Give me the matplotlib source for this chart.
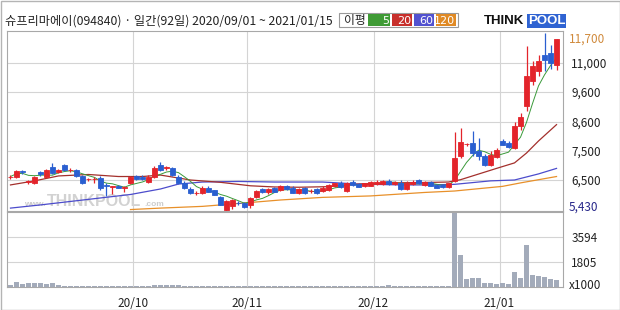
import numpy as np
import pandas as pd
import matplotlib
matplotlib.use("Agg")
import matplotlib.pyplot as plt
from matplotlib.patches import Rectangle

plt.rcParams['font.family'] = ['Noto Sans CJK KR', 'DejaVu Sans']

title = "슈프리마에이(094840) · 일간(92일) 2020/09/01 ~ 2021/01/15"

# daily candles, 2020/09/01 .. 2021/01/15 (92 trading days)
opens = [6600, 6600, 6810, 6430, 6400, 6780, 6610, 6950, 6780, 7020,
         6830, 6850, 6640, 6520, 6520, 6570, 6330, 6260, 6290, 6240,
         6400, 6640, 6620, 6430, 6600, 7030, 6910, 6900, 6590, 6410,
         6200, 6040, 6040, 6230, 6140, 5900, 5470, 5590, 5720, 5690,
         5640, 5920, 6180, 6070, 6210, 6160, 6290, 6230, 6040, 6210,
         6110, 6180, 6120, 6160, 6290, 6410, 6130, 6440, 6350, 6290,
         6300, 6350, 6360, 6470, 6350, 6410, 6180, 6360, 6500, 6320,
         6420, 6340, 6340, 6250, 6460, 7320, 7750, 7800, 7510, 7340,
         7010, 7280, 7870, 7800, 7610, 8440, 9120, 10120, 10600, 11240,
         11290, 10920]
highs = [6670, 6850, 6830, 6500, 6640, 6810, 6880, 7090, 6880, 7050,
         6910, 6880, 6670, 6570, 6590, 6640, 6400, 6290, 6330, 6290,
         6640, 6670, 6670, 6670, 6980, 7120, 6980, 6950, 6670, 6470,
         6260, 6120, 6280, 6280, 6170, 5950, 5810, 5850, 5760, 5740,
         5910, 6160, 6220, 6210, 6260, 6340, 6330, 6290, 6220, 6260,
         6190, 6220, 6290, 6360, 6410, 6470, 6430, 6500, 6400, 6410,
         6470, 6500, 6500, 6520, 6470, 6500, 6470, 6500, 6530, 6470,
         6470, 6360, 6360, 6410, 8220, 8370, 7820, 8270, 7990, 7410,
         7490, 7610, 7940, 7880, 8590, 8900, 11490, 11050, 11240, 11870,
         11530, 11700]
lows = [6540, 6570, 6720, 6360, 6360, 6640, 6570, 6710, 6740, 6810,
        6780, 6600, 6360, 6470, 6400, 6160, 5950, 6020, 6220, 6090,
        6360, 6500, 6500, 6400, 6570, 6810, 6850, 6640, 6360, 6190,
        6030, 5970, 6020, 6070, 5970, 5620, 5430, 5500, 5650, 5530,
        5530, 5880, 6050, 6030, 6090, 6120, 6160, 6060, 6020, 6020,
        6050, 6030, 6090, 6120, 6260, 6240, 6100, 6290, 6260, 6260,
        6280, 6330, 6330, 6330, 6330, 6160, 6160, 6330, 6360, 6290,
        6290, 6210, 6220, 6220, 6430, 7260, 7690, 7320, 7200, 6980,
        6980, 7260, 7710, 7610, 7580, 8310, 8980, 9950, 10360, 10630,
        10710, 10680]
closes = [6620, 6810, 6760, 6450, 6600, 6710, 6830, 6740, 6850, 6830,
          6850, 6640, 6400, 6530, 6530, 6210, 6290, 6280, 6220, 6260,
          6600, 6550, 6530, 6620, 6930, 6850, 6950, 6660, 6380, 6210,
          6060, 6050, 6220, 6100, 5980, 5650, 5760, 5810, 5710, 5560,
          5870, 6120, 6070, 6180, 6100, 6290, 6180, 6060, 6180, 6040,
          6120, 6060, 6230, 6330, 6390, 6270, 6390, 6330, 6270, 6390,
          6420, 6440, 6470, 6360, 6440, 6180, 6410, 6420, 6390, 6430,
          6300, 6220, 6250, 6400, 7260, 7830, 7780, 7430, 7340, 7010,
          7370, 7530, 7740, 7650, 8440, 8760, 10360, 10870, 11050, 11100,
          11000, 11700]
# volume in thousands of shares
volumes = [140, 380, 240, 310, 260, 310, 190, 310, 140, 90,
           80, 80, 80, 70, 60, 60, 90, 70, 60, 60,
           70, 60, 70, 80, 160, 130, 150, 120, 110, 80,
           60, 60, 60, 60, 70, 100, 90, 60, 60, 50,
           60, 60, 50, 50, 60, 50, 50, 50, 60, 50,
           50, 60, 50, 60, 60, 60, 70, 90, 60, 60,
           60, 60, 70, 110, 90, 90, 90, 60, 60, 60,
           60, 60, 70, 70, 5260, 2300, 580, 670, 670, 310,
           310, 220, 310, 240, 1100, 650, 2970, 860, 790, 740,
           580, 530]

# moving averages (day index, price)
ma20_idx = [0, 4, 8, 13, 18, 22, 25, 30, 35, 40, 44, 48, 53, 58, 63, 68, 73, 75, 81, 84, 86, 88, 91]
ma20_val = [6330, 6470, 6640, 6690, 6620, 6620, 6670, 6500, 6420, 6300, 6260, 6250, 6270, 6360, 6400,
            6410, 6430, 6510, 6900, 7090, 7430, 7880, 8500]
ma60_idx = [0, 5, 10, 15, 20, 25, 28, 32, 38, 44, 52, 58, 65, 70, 74, 80, 84, 88, 91]
ma60_val = [5530, 5640, 5760, 5880, 6000, 6190, 6360, 6430, 6450, 6430, 6430, 6360, 6330, 6330, 6350,
            6470, 6500, 6710, 6900]
ma120_idx = [20, 25, 32, 38, 45, 52, 60, 69, 74, 82, 85, 91]
ma120_val = [5480, 5530, 5590, 5690, 5810, 5900, 5950, 6070, 6120, 6280, 6400, 6620]

month_starts = [21, 40, 61, 82]
month_labels = ["20/10", "20/11", "20/12", "21/01"]

price_ticks = [6500, 7500, 8600, 9600, 11000]
price_labels = ["6,500", "7,500", "8,600", "9,600", "11,000"]
# the price axis puts these labels on evenly spaced gridlines
scale_vals = [5430, 6500, 7500, 8600, 9600, 11000, 11700, 11930]
scale_pos = [0, 31, 60, 89, 119, 148, 172, 180]

vol_ticks = [1805, 3594]

UP = "#e3242b"
DOWN = "#2a5fd0"
GRID = "#d4d4d4"


def fwd(v):
    return np.interp(v, scale_vals, scale_pos)


def inv(p):
    return np.interp(p, scale_pos, scale_vals)


fig = plt.figure(figsize=(6.2, 3.1), dpi=100)
fig.patch.set_facecolor("white")

ax = fig.add_axes([7 / 620, 1 - 211 / 310, 556 / 620, 180 / 310])
axv = fig.add_axes([7 / 620, 1 - 287 / 310, 556 / 620, 75 / 310], sharex=ax)

x = np.arange(len(closes))
o = np.array(opens)
h = np.array(highs)
l = np.array(lows)
c = np.array(closes)
colors = np.where(c >= o, UP, DOWN)

ax.set_yscale("function", functions=(fwd, inv))
ax.set_ylim(5430, 11930)
ax.set_xlim(-0.58, 92.08)

for v in price_ticks:
    ax.axhline(v, color=GRID, lw=0.8, zorder=0)
for m in month_starts:
    ax.axvline(m - 0.5, color=GRID, lw=0.8, zorder=0)
    axv.axvline(m - 0.5, color=GRID, lw=0.8, zorder=0)

# watermark
ax.text(17 / 556, 3 / 180, "www.", transform=ax.transAxes, fontsize=6, color="#cccccc",
        family="Liberation Sans", weight="bold", ha="left", va="bottom", zorder=1)
ax.text(40 / 556, 2 / 180, "THINKPOOL", transform=ax.transAxes, fontsize=11.5, color="#d2d2d2",
        family="Liberation Sans", weight="bold", ha="left", va="bottom", zorder=1)
ax.text(137 / 556, 3 / 180, ".com", transform=ax.transAxes, fontsize=6, color="#cccccc",
        family="Liberation Sans", weight="bold", ha="left", va="bottom", zorder=1)

# moving averages
ma5 = pd.Series(closes).rolling(5, min_periods=1).mean()
ax.plot(ma120_idx, ma120_val, color="#e8902a", lw=0.9, zorder=2)
ax.plot(ma60_idx, ma60_val, color="#4c4ccc", lw=0.9, zorder=2)
ax.plot(ma20_idx, ma20_val, color="#a3302c", lw=0.9, zorder=2)
ax.plot(x, ma5, color="#3a9a3a", lw=0.7, zorder=2)

# candles
ax.vlines(x, l, h, colors=colors, lw=0.9, zorder=3)
ax.bar(x, np.abs(c - o), bottom=np.minimum(o, c), width=0.68, color=colors,
       edgecolor=colors, linewidth=0.6, zorder=4)

ax.yaxis.tick_right()
ax.set_yticks(price_ticks)
ax.set_yticklabels(price_labels)
ax.tick_params(axis="y", length=0, pad=6, labelsize=8.5, labelcolor="#222222")
ax.tick_params(axis="x", length=0, labelbottom=False)
ax.set_yticks([], minor=True)
ax.text(1.01, 172 / 180, "11,700", transform=ax.transAxes, fontsize=8.5, color="#d08a3c",
        ha="left", va="center")
ax.text(1.01, 4 / 180, "5,430", transform=ax.transAxes, fontsize=8.5, color="#27278a",
        ha="left", va="center")

# volume
for v in vol_ticks:
    axv.axhline(v, color=GRID, lw=0.8, zorder=0)
axv.bar(x, volumes, width=0.68, color="#a3abba", zorder=2)
axv.set_ylim(0, 5350)
axv.yaxis.tick_right()
axv.set_yticks(vol_ticks)
axv.set_yticklabels([str(v) for v in vol_ticks])
axv.tick_params(axis="y", length=0, pad=6, labelsize=8.5, labelcolor="#222222")
axv.text(1.01, 0.02, "x1000", transform=axv.transAxes, fontsize=8.5, color="#222222",
         ha="left", va="center")
axv.set_xticks([m - 0.5 for m in month_starts])
axv.set_xticklabels(month_labels)
axv.tick_params(axis="x", length=0, pad=7, labelsize=8.5, labelcolor="#222222")

for a in (ax, axv):
    for s in a.spines.values():
        s.set_color("#a8a8a8")
        s.set_linewidth(0.8)

# header
fig.text(5 / 620, 1 - 21 / 310, title, fontsize=8.8, color="#222222", ha="left", va="center")

fig.patches.append(Rectangle((339 / 620, 1 - 27 / 310), 119 / 620, 14 / 310,
                             transform=fig.transFigure, facecolor="white",
                             edgecolor="#9a9a9a", lw=0.8))
fig.text(344 / 620, 1 - 20.5 / 310, "이평", fontsize=8.5, color="#222222", ha="left", va="center")
legend_boxes = [("5", "#3f9b35", 368, 390), ("20", "#c8302c", 392, 412),
                ("60", "#5252d0", 414, 434), ("120", "#e08a25", 436, 456)]
for lab, col, x0, x1 in legend_boxes:
    fig.patches.append(Rectangle((x0 / 620, 1 - 26 / 310), (x1 - x0) / 620, 12 / 310,
                                 transform=fig.transFigure, facecolor=col, lw=0))
    fig.text((x1 - 1) / 620, 1 - 20.5 / 310, lab, fontsize=8, color="white",
             ha="right", va="center", family="DejaVu Sans")

# logo
fig.text(484 / 620, 1 - 21.5 / 310, "THINK", fontsize=9.5, weight="bold", color="#111111",
         ha="left", va="center", family="Liberation Sans")
fig.patches.append(Rectangle((527 / 620, 1 - 28 / 310), 39 / 620, 14 / 310,
                             transform=fig.transFigure, facecolor="#2f63d2", lw=0))
fig.text(546.5 / 620, 1 - 21.5 / 310, "POOL", fontsize=9.5, weight="bold", color="white",
         ha="center", va="center", family="Liberation Sans")

# outer frame
fig.patches.append(Rectangle((0.5 / 620, 0.5 / 310), 619 / 620, 309 / 310,
                             transform=fig.transFigure, fill=False,
                             edgecolor="#b4b4b4", lw=1))

fig.savefig("out.png", dpi=100)
